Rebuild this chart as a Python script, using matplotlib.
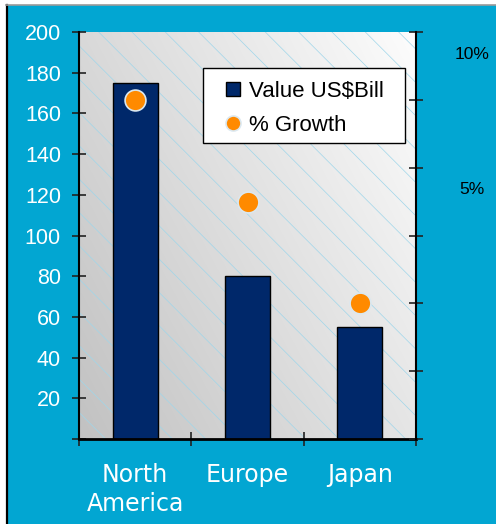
import numpy as np
import matplotlib
matplotlib.use('Agg')
import matplotlib.pyplot as plt
import matplotlib.transforms as mtransforms
from matplotlib.patches import Rectangle
from matplotlib.lines import Line2D

# chart data
regions = ['North\nAmerica', 'Europe', 'Japan']
value_bill = [175, 80, 55]
growth = [0.10, 0.07, 0.04]
value_ticks = [0, 20, 40, 60, 80, 100, 120, 140, 160, 180, 200]
growth_ticks = [0, 0.02, 0.04, 0.06, 0.08, 0.10, 0.12]
legend_labels = ['Value US$Bill', '% Growth']

BLUE = '#02A6D2'
NAVY = '#00286A'
ORANGE = '#FF8A00'
plt.rcParams['hatch.linewidth'] = 0.5

W, H = 496, 524
fig = plt.figure(figsize=(W/100, H/100), dpi=100, facecolor='white')

# blue panel with black left edge and grey top edge
fig.patches.append(Rectangle((7/W, 0), 1, 1 - 5/H, transform=fig.transFigure,
                             facecolor=BLUE, edgecolor='none', zorder=-1))
fig.add_artist(Line2D([6.5/W, 6.5/W], [0, 1 - 4.5/H], transform=fig.transFigure,
                      color='black', lw=1.6))
fig.add_artist(Line2D([6/W, 1], [1 - 4.5/H, 1 - 4.5/H], transform=fig.transFigure,
                      color='#9a9a9a', lw=1.2))

ax = fig.add_axes([79/W, 1 - 439/H, 337/W, 407/H])

# grey gradient background + diagonal light-blue hatch
gx, gy = np.meshgrid(np.linspace(0, 1, 64), np.linspace(1, 0, 64))
shade = 0.76 + 0.14*gx + 0.09*gy
ax.imshow(np.dstack([shade]*3), extent=[0, 1, 0, 1], transform=ax.transAxes,
          aspect='auto', interpolation='bilinear', zorder=0)
ax.add_patch(Rectangle((0, 0), 1, 1, transform=ax.transAxes, facecolor='none',
                       edgecolor='#9fd6ea', hatch='\\', lw=0, zorder=0.5))

x = np.arange(len(regions))
bars = ax.bar(x, value_bill, width=0.4, color=NAVY, edgecolor='black', lw=1, zorder=2)
ax.set_xlim(-0.5, len(regions) - 0.5)
ax.set_ylim(0, 200)
ax.set_yticks(value_ticks)
ax.set_yticklabels(['' if v == 0 else str(v) for v in value_ticks],
                   family='Liberation Sans')
ax.tick_params(axis='y', direction='inout', length=10, width=1.2, color='#222222',
               labelcolor='white', labelsize=15.5, pad=8)
ax.set_xticks(x)
ax.set_xticklabels(regions, family='DejaVu Sans')
ax.set_xticks(np.arange(len(regions) + 1) - 0.5, minor=True)
ax.tick_params(axis='x', which='major', length=0, labelcolor='white', labelsize=17, pad=17)
ax.tick_params(axis='x', which='minor', direction='inout', length=10, width=1.2,
               color='#222222')
for lbl in ax.get_xticklabels():
    lbl.set_linespacing(1.3)
ax.spines['top'].set_visible(False)
ax.spines['right'].set_visible(False)
ax.spines['left'].set_linewidth(1.5)
ax.spines['bottom'].set_linewidth(2)

# growth on secondary axis
ax2 = ax.twinx()
dots, = ax2.plot(x, growth, 'o', ms=15, mfc=ORANGE, mec='#dbe8f0', mew=1.2, zorder=3)
ax2.set_ylim(0, 0.12)
ax2.set_yticks(growth_ticks)
ax2.tick_params(axis='y', direction='inout', length=10, width=1.2, color='#222222',
                labelright=False)
for s in ['top', 'left', 'bottom']:
    ax2.spines[s].set_visible(False)
ax2.spines['right'].set_linewidth(1.5)
# thin white line just outside the right spine
ax2.add_line(Line2D([1, 1], [0, 1], color='white', lw=1,
                    transform=mtransforms.offset_copy(ax2.transAxes, fig, x=1.6, units='dots')))
ax2.text(1.166, 0.9435, '10%', transform=ax2.transAxes, ha='center', va='center',
         fontsize=12.5, family='Liberation Sans', color='black')
ax2.text(1.166, 0.612, '5%', transform=ax2.transAxes, ha='center', va='center',
         fontsize=12.5, family='Liberation Sans', color='black')

# legend frame drawn separately so padding can match
ax2.add_patch(Rectangle((124/337, 296/407), 202/337, 75/407, transform=ax2.transAxes,
                        facecolor='white', edgecolor='black', lw=1, zorder=4))
leg = ax2.legend([bars, dots], legend_labels, loc='upper left',
                 bbox_to_anchor=(147/337, 358/407), borderaxespad=0, borderpad=0,
                 frameon=False, handlelength=0.63, handleheight=0.63,
                 handletextpad=0.4, labelspacing=0.58, markerscale=0.72,
                 prop={'family': 'Liberation Sans', 'size': 16})
leg.set_zorder(5)

fig.savefig('out.png', dpi=100)
